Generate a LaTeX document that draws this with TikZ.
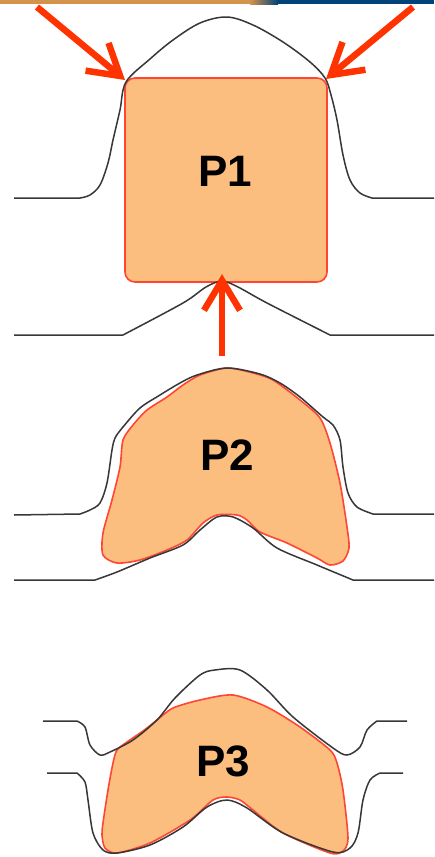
\documentclass[tikz,border=0pt]{standalone}
\usepackage{fontspec}
\setmainfont{Liberation Sans}
\usetikzlibrary{arrows.meta}
\definecolor{pfill}{RGB}{252,190,126}
\definecolor{pedge}{RGB}{255,70,50}
\definecolor{arr}{RGB}{255,51,0}
\definecolor{gline}{RGB}{55,55,55}
\definecolor{bandorange}{RGB}{212,147,74}
\definecolor{bandblue}{RGB}{0,66,122}
\begin{document}
\begin{tikzpicture}[x=1pt,y=-1pt,
  mould/.style={draw=gline,line width=1.5pt,line join=round},
  part/.style={fill=pfill,draw=pedge,line width=1.6pt,line join=round},
  push/.style={draw=arr,line width=6.5pt,-{Straight Barb[length=30pt,width=36pt]}},
  lbl/.style={font=\fontsize{44}{44}\selectfont\bfseries,inner sep=0pt}]
\useasboundingbox (0,0) rectangle (434,857);
\fill[white] (0,0) rectangle (434,857);
% header band
\fill[bandorange] (0,0) rectangle (250,4);
\shade[left color=bandorange,right color=bandblue] (250,0) rectangle (278,4);
\fill[bandblue] (278,0) rectangle (434,4);

% ---------- P1 ----------
\draw[part,rounded corners=10pt] (125,78) rectangle (327,282);
\draw[mould] (14,198) -- (80,198)
  plot[smooth,tension=0.55] coordinates {(80,198) (90,195) (100,185) (108,163) (113,140) (120,110) (126,82) (150,59) (173,40) (200,23) (227,17) (253,25) (283,42) (310,62) (325,78) (331,95) (337,120) (343,155) (350,180) (360,193) (372,198)}
  -- (434,198);
\draw[mould] (14,335) -- (123,335)
  plot[smooth,tension=0.5] coordinates {(123,335) (183,303) (206,287) (222,281) (238,287) (267,303) (330,335)}
  -- (434,335);
\node[lbl] (p1) at (225,171) {P1};
\coordinate (a1s) at (37,7);
\coordinate (a1t) at (125,80);
\coordinate (a2s) at (413,7);
\coordinate (a2t) at (326,79);
\coordinate (a3s) at (222,356);
\coordinate (a3t) at (222,274);
\draw[push] (a1s) -- (a1t);
\draw[push] (a2s) -- (a2t);
\draw[push] (a3s) -- (a3t);

% ---------- P2 ----------
\draw[part] plot[smooth cycle,tension=0.45] coordinates {
  (227,368) (253,373) (273,380) (300,400) (320,418) (330,443) (340,483) (347,527)
  (349,548) (343,561) (330,565) (317,558) (287,543) (260,532) (247,520) (237,515)
  (217,515) (203,523) (187,540) (167,550) (140,560) (117,563) (103,555) (103,533)
  (112,500) (120,467) (123,440) (133,425) (147,410) (167,397) (183,385) (200,375)};
\draw[mould] (14,515) -- (80,514)
  plot[smooth,tension=0.5] coordinates {(80,514) (90,510) (100,503) (107,483) (112,450) (115,438) (123,427) (140,408) (160,395) (180,383) (197,375) (227,368) (260,374) (280,383) (300,397) (323,417) (333,425) (340,440) (343,467) (348,493) (357,507) (373,514)}
  -- (434,514);
\draw[mould] (14,580) -- (95,580)
  plot[smooth,tension=0.5] coordinates {(95,580) (117,572) (150,558) (183,545) (200,530) (217,517) (233,517) (253,528) (277,548) (317,565) (353,580)}
  -- (434,580);
\node[lbl] (p2) at (227,455) {P2};

% ---------- P3 ----------
\draw[part] plot[smooth cycle,tension=0.45] coordinates {
  (200,700) (233,695) (267,707) (300,727) (330,750) (337,763) (343,790) (348,838)
  (343,851) (330,853) (283,833) (253,810) (240,800) (227,797) (213,800) (190,820)
  (150,843) (117,853) (105,848) (102,835) (103,823) (108,790) (113,763) (117,750)
  (127,742) (143,731) (157,720) (173,708)};
\draw[mould] (43,721) -- (77,721)
  plot[smooth,tension=0.5] coordinates {(77,721) (85,727) (90,745) (100,755) (110,752) (133,740) (157,720) (175,698) (200,675) (215,670) (240,670) (267,690) (293,717) (333,748) (347,755) (360,747) (367,730) (377,721)}
  -- (407,721);
\draw[mould] (47,773) -- (77,773)
  plot[smooth,tension=0.5] coordinates {(77,773) (85,782) (88,800) (93,833) (103,850) (117,853) (150,845) (183,827) (207,807) (227,800) (247,808) (283,833) (333,852) (350,848) (358,833) (363,800) (370,780) (380,773)}
  -- (403,773);
\node[lbl] (p3) at (223,761) {P3};
\end{tikzpicture}
\end{document}
